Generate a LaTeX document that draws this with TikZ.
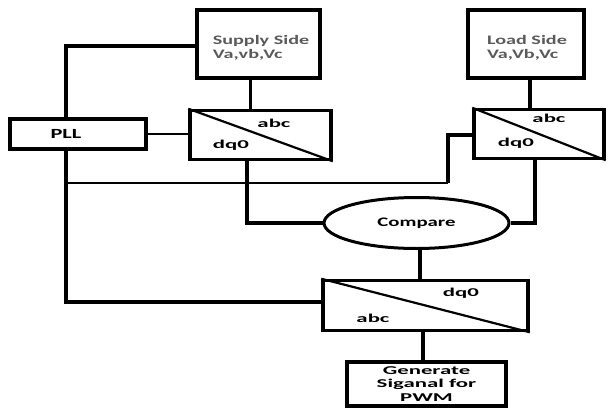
\documentclass[tikz,border=0pt]{standalone}
\usepackage{fontspec}
\setmainfont{Carlito}
\newfontfamily\lblfont[FakeStretch=1.6]{Carlito}
\newfontfamily\widefont[FakeStretch=1.9]{Carlito}
\newfontfamily\srcfont[FakeStretch=1.55]{Carlito}
\usetikzlibrary{shapes.geometric,calc}
\definecolor{txtgray}{HTML}{5A5A5A}
\begin{document}
\begin{tikzpicture}[x=1pt,y=-1pt,
  blk/.style={draw,line width=3.5pt,rectangle,inner sep=0pt},
  conv/.style={blk},
  wire/.style={line width=3.2pt},
  hwire/.style={line width=2.4pt},
  diag/.style={line width=2.2pt},
  lab/.style={font=\widefont\bfseries\fontsize{12}{13}\selectfont,inner sep=0pt},
  src/.style={font=\srcfont\bfseries\fontsize{13}{14}\selectfont,text=txtgray,align=left,inner sep=0pt}
]
\useasboundingbox (0,0) rectangle (608,410);
% blocks
\node[blk,minimum width=123pt,minimum height=68pt] (supply) at (258.5,44) {};
\node[src] at (261,48) {Supply Side\\Va,vb,Vc};
\node[blk,minimum width=116pt,minimum height=68pt] (load) at (526,44) {};
\node[src] at (527,48) {Load Side\\Va,Vb,Vc};
\node[blk,minimum width=136pt,minimum height=30pt,font=\lblfont\bfseries\fontsize{14}{16}\selectfont] (pll) at (78,134) {\hspace*{-24pt}PLL};
\node[conv,minimum width=141pt,minimum height=49pt] (sdq) at (260.5,135) {};
\node[conv,minimum width=130pt,minimum height=49pt] (ldq) at (539,134) {};
\node[draw,ellipse,line width=3pt,minimum width=185pt,minimum height=51pt,inner sep=0pt,font=\lblfont\bfseries\fontsize{13}{15}\selectfont] (cmp) at (416.5,223) {Compare};
\node[conv,minimum width=205pt,minimum height=50pt] (bdq) at (425.5,305.5) {};
\node[blk,minimum width=159pt,minimum height=44pt,align=center,font=\widefont\bfseries\fontsize{12}{13.5}\selectfont] (gen) at (426.5,384) {Generate\\Siganal for\\PWM};
% diagonals
\draw[diag] (sdq.north west) -- (sdq.south east);
\draw[diag] (ldq.north west) -- (ldq.south east);
\draw[diag] (bdq.north west) -- (bdq.south east);
% labels
\node[lab] at (274,123) {abc};
\node[lab] at (231,145) {dq0};
\node[lab] at (549,118) {abc};
\node[lab] at (516,143) {dq0};
\node[lab] at (461,293) {dq0};
\node[lab] at (373,318) {abc};
% connectors
\coordinate (tap) at (66,183);
\coordinate (turn) at (448,183);
\draw[wire] ([yshift=-2pt]supply.west) -| ([xshift=-12pt]pll.north);
\draw[hwire] (pll.east) -- (pll.east -| sdq.west);
\draw[wire] ([xshift=-8pt]supply.south) -- ([xshift=-8pt]supply.south |- sdq.north);
\draw[wire] ([xshift=4pt]load.south) -- ([xshift=4pt]load.south |- ldq.north);
\draw[wire] ([xshift=-12pt]pll.south) |- ([yshift=3.5pt]bdq.west);
\draw[hwire] (tap) -- (turn);
\draw[wire] (turn) |- ([yshift=-1pt]ldq.west);
\draw[wire] ([xshift=-13.5pt]sdq.south) |- (cmp.west);
\draw[wire] ([xshift=-4pt]ldq.south) |- (cmp.east);
\draw[wire] ([xshift=3.5pt]cmp.south) -- ([xshift=3.5pt]cmp.south |- bdq.north);
\draw[wire] ([xshift=-2.5pt]bdq.south) -- ([xshift=-2.5pt]bdq.south |- gen.north);
\end{tikzpicture}
\end{document}
